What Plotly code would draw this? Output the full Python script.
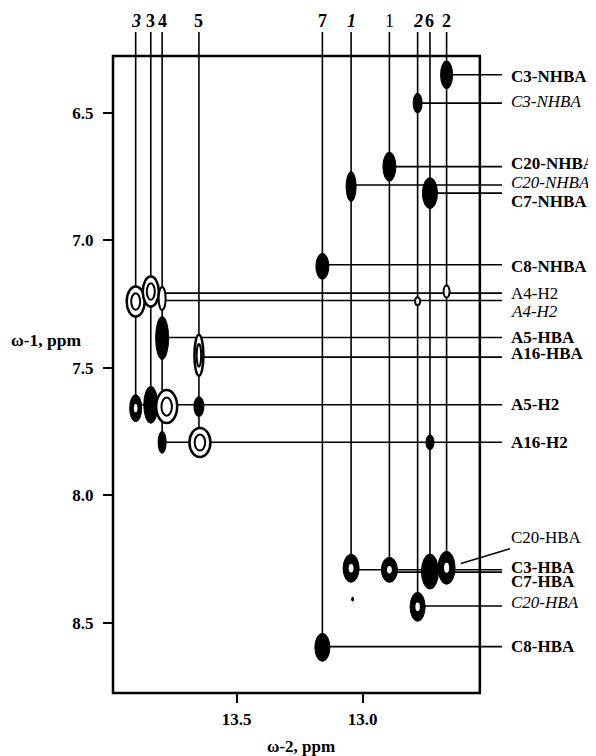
import plotly.graph_objects as go

# ---------------- data (ppm) ----------------
# columns (omega-2 positions of assigned imino protons)
col_labels = ["3", "3", "4", "5", "7", "1", "1", "2", "6", "2"]
col_italic = [True, False, False, False, False, True, False, True, False, False]
col_bold = [True, True, True, True, True, True, False, True, True, True]
col_w2 = [13.901, 13.841, 13.796, 13.650, 13.160, 13.046, 12.894, 12.782, 12.733, 12.667]
col_w1_end = [7.646, 7.646, 7.793, 7.793, 8.594, 8.287, 8.293, 8.435, 8.300, 8.287]

# rows (omega-1 positions of cross-peak partners)
row_labels = ["C3-NHBA", "C3-NHBA", "C20-NHBA", "C20-NHBA", "C7-NHBA", "C8-NHBA",
              "A4-H2", "A4-H2", "A5-HBA", "A16-HBA", "A5-H2", "A16-H2",
              "C3-HBA", "C7-HBA", "C20-HBA", "C8-HBA"]
row_italic = [False, True, False, True, False, False, False, True, False, False,
              False, False, False, False, True, False]
row_bold = [True, False, True, False, True, True, False, False, True, True,
            True, True, True, True, False, True]
row_w1 = [6.352, 6.463, 6.712, 6.784, 6.816, 7.097, 7.208, 7.237, 7.382, 7.459,
          7.646, 7.793, 8.293, 8.302, 8.435, 8.594]
row_w2_start = [12.667, 12.782, 12.894, 13.046, 12.733, 13.160, 13.841, 13.901, 13.796,
                13.650, 13.901, 13.796, 13.046, 12.894, 12.782, 13.160]

# extra label with leader line
diag_label = "C20-HBA"
diag_w2 = 12.667
diag_w1 = 8.285

# cross peaks
peak_w2 = [12.667, 12.782, 12.894, 13.046, 12.733, 13.160, 12.667, 12.782, 12.733,
           13.046, 12.894, 12.733, 12.667, 12.782, 13.160, 13.040,
           13.901, 13.841, 13.796, 13.796, 13.650, 13.901, 13.841, 13.778, 13.650,
           13.796, 13.646]
peak_w1 = [6.352, 6.463, 6.712, 6.790, 6.816, 7.103, 7.202, 7.240, 7.793,
           8.287, 8.293, 8.300, 8.285, 8.438, 8.597, 8.408,
           7.241, 7.202, 7.229, 7.384, 7.452, 7.659, 7.646, 7.653, 7.653,
           7.793, 7.794]
peak_kind = ["fill", "fill", "fill", "fill", "fill", "fill", "ring", "ring", "fill",
             "dot", "dot", "fill", "dot", "dot", "fill", "fill",
             "ring2", "ring2", "ring", "fill", "ring2", "dot", "fill", "ring2", "fill",
             "fill", "ring2"]

# ---------------- style / layout ----------------
peak_wpx = [12, 9, 13, 10, 15, 13, 6, 5, 8, 16, 16, 17, 17, 15, 15, 2,
            18, 16, 7, 13, 9, 12, 14, 21, 10, 8, 21]
peak_hpx = [28, 20, 29, 30, 31, 26, 12, 8, 15, 28, 25, 35, 33, 29, 28, 4,
            30, 30, 23, 43, 41, 27, 37, 33, 20, 22, 29]
row_label_dy = [1.5, -2, -3, -2, 8, 1.5, 0, 11, 0, -4, 0, 0, -2, 9, -4, 0]

X_LEFT, X_RIGHT = 13.991, 12.074
Y_BOTTOM, Y_TOP = 8.776, 6.090
FRAME_RIGHT, FRAME_TOP = 12.535, 6.278
VLINE_TOP = 6.184
COL_LABEL_Y = 6.141
HLINE_END = 12.447
ROW_LABEL_X = 12.418
FONT = "Liberation Serif"
MARGIN_L, PLOT_W = 105, 483

fig = go.Figure()

# vertical leader lines
vx, vy = [], []
for c, e in zip(col_w2, col_w1_end):
    vx += [c, c, None]
    vy += [VLINE_TOP, e, None]
fig.add_trace(go.Scatter(x=vx, y=vy, mode="lines", line=dict(color="black", width=1.6),
                         hoverinfo="skip", showlegend=False))

# horizontal leader lines
hx, hy = [], []
for s, r in zip(row_w2_start, row_w1):
    hx += [s, HLINE_END, None]
    hy += [r, r, None]
fig.add_trace(go.Scatter(x=hx, y=hy, mode="lines", line=dict(color="black", width=1.6),
                         hoverinfo="skip", showlegend=False))

shapes = []


def ell(x, y, w, h, fill, lw):
    return dict(type="circle", xref="x", yref="y", xsizemode="pixel", ysizemode="pixel",
                xanchor=x, yanchor=y, x0=-w / 2, x1=w / 2, y0=-h / 2, y1=h / 2,
                fillcolor=fill, line=dict(color="black", width=lw), layer="above")


for x, y, k, w, h in zip(peak_w2, peak_w1, peak_kind, peak_wpx, peak_hpx):
    if k == "fill":
        shapes.append(ell(x, y, w, h, "black", 1))
    elif k == "ring":
        shapes.append(ell(x, y, w, h, "white", 2))
    elif k == "dot":
        shapes.append(ell(x, y, w, h, "black", 1))
        shapes.append(dict(ell(x, y, w * 0.3, h * 0.3, "white", 0)))
    elif k == "ring2":
        shapes.append(ell(x, y, w, h, "white", 2.5))
        shapes.append(ell(x, y, w * 0.5, h * 0.55, "white", 2))

# frame (axes box)
shapes.append(dict(type="rect", xref="paper", yref="paper",
                   x0=0, x1=(X_LEFT - FRAME_RIGHT) / (X_LEFT - X_RIGHT),
                   y0=0, y1=(Y_BOTTOM - FRAME_TOP) / (Y_BOTTOM - Y_TOP),
                   line=dict(color="black", width=2.5), layer="above"))

annotations = []
for lab, c, it, bd in zip(col_labels, col_w2, col_italic, col_bold):
    annotations.append(dict(x=c, y=COL_LABEL_Y, xref="x", yref="y", text=lab, showarrow=False,
                            xanchor="center", yanchor="middle",
                            font=dict(family=FONT, size=18, color="black",
                                      weight="bold" if bd else "normal",
                                      style="italic" if it else "normal")))
for lab, r, it, bd, dy in zip(row_labels, row_w1, row_italic, row_bold, row_label_dy):
    annotations.append(dict(x=ROW_LABEL_X, y=r, xref="x", yref="y", text=lab, showarrow=False,
                            xanchor="left", yanchor="middle", yshift=-dy,
                            font=dict(family=FONT, size=17, color="black",
                                      weight="bold" if bd else "normal",
                                      style="italic" if it else "normal")))
annotations.append(dict(x=diag_w2, y=diag_w1, xref="x", yref="y", text=diag_label,
                        showarrow=True, arrowhead=0, arrowwidth=1.5, arrowcolor="black",
                        ax=100, ay=-30, standoff=15,
                        font=dict(family=FONT, size=17, color="black")))
annotations.append(dict(x=-(MARGIN_L - 1) / PLOT_W, y=0.515, xref="paper", yref="paper",
                        text="ω-1, ppm", showarrow=False, xanchor="left", yanchor="middle",
                        font=dict(family=FONT, size=17.5, color="black", weight="bold")))
annotations.append(dict(x=0.389, y=-0.078, xref="paper", yref="paper", text="ω-2, ppm",
                        showarrow=False, xanchor="center", yanchor="middle",
                        font=dict(family=FONT, size=17, color="black", weight="bold")))

fig.update_layout(
    width=588, height=748,
    margin=dict(l=MARGIN_L, r=0, t=0, b=63),
    paper_bgcolor="white", plot_bgcolor="white",
    shapes=shapes, annotations=annotations,
    xaxis=dict(range=[X_LEFT, X_RIGHT], tickvals=[13.5, 13.0], ticktext=["13.5", "13.0"],
               ticks="outside", ticklen=9, tickwidth=2, tickcolor="black",
               ticklabelstandoff=2,
               showgrid=False, zeroline=False, showline=False,
               tickfont=dict(family=FONT, size=17, color="black", weight="bold")),
    yaxis=dict(range=[Y_BOTTOM, Y_TOP], tickvals=[6.5, 7.0, 7.5, 8.0, 8.5],
               ticktext=["6.5", "7.0", "7.5", "8.0", "8.5"],
               ticks="outside", ticklen=9, tickwidth=2, tickcolor="black",
               ticklabelstandoff=6,
               showgrid=False, zeroline=False, showline=False,
               tickfont=dict(family=FONT, size=17, color="black", weight="bold")),
)

fig.write_html("out.html")
